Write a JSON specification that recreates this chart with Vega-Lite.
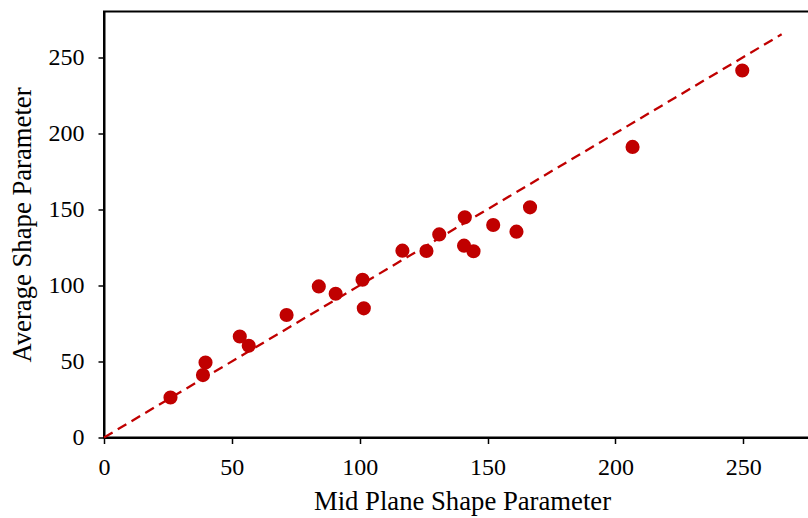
{
  "$schema": "https://vega.github.io/schema/vega-lite/v6.json",
  "autosize": {"type": "none"},
  "padding": {"left": 104, "top": 11.5, "right": -12, "bottom": 80.5},
  "width": 716,
  "height": 426,
  "background": "white",
  "config": {
    "view": {"stroke": "black", "strokeWidth": 2},
    "font": "Liberation Serif",
    "axis": {
      "gridOpacity": 0,
      "domainColor": "black",
      "domainWidth": 2,
      "ticks": true,
      "tickSize": 6,
      "tickColor": "black",
      "tickWidth": 1.5,
      "labelFont": "Liberation Serif",
      "labelFontSize": 24,
      "labelColor": "black",
      "titleFont": "Liberation Serif",
      "titleFontSize": 26.7,
      "titleFontWeight": "normal",
      "titleColor": "black"
    }
  },
  "encoding": {
    "x": {"field": "x", "type": "quantitative", "scale": {"domain": [0, 280], "nice": false},
          "axis": {"tickCount": 6, "labelPadding": 12, "labelFlush": false,
                   "title": "Mid Plane Shape Parameter", "titlePadding": 9}},
    "y": {"field": "y", "type": "quantitative", "scale": {"domain": [0, 280], "nice": false},
          "axis": {"tickCount": 6, "labelPadding": 14,
                   "title": "Average Shape Parameter", "titlePadding": 12}}
  },
  "layer": [
    {
      "data": {"values": [{"x": 0, "y": 0}, {"x": 265, "y": 265}]},
      "mark": {"type": "line", "color": "#C00000", "strokeWidth": 2.3, "strokeDash": [10, 6]}
    },
    {
      "data": {"values": [
        {"x": 26.0, "y": 26.3},
        {"x": 38.7, "y": 41.0},
        {"x": 39.7, "y": 49.3},
        {"x": 53.1, "y": 66.4},
        {"x": 56.6, "y": 60.3},
        {"x": 71.4, "y": 80.5},
        {"x": 84.0, "y": 99.3},
        {"x": 90.6, "y": 94.5},
        {"x": 101.1, "y": 103.7},
        {"x": 101.6, "y": 84.9},
        {"x": 116.7, "y": 122.8},
        {"x": 126.1, "y": 122.6},
        {"x": 131.1, "y": 133.5},
        {"x": 141.1, "y": 144.7},
        {"x": 140.8, "y": 126.1},
        {"x": 144.5, "y": 122.4},
        {"x": 152.2, "y": 139.7},
        {"x": 161.3, "y": 135.3},
        {"x": 166.6, "y": 151.3},
        {"x": 206.7, "y": 191.0},
        {"x": 249.6, "y": 241.2}
      ]},
      "mark": {"type": "point", "filled": true, "shape": "circle", "size": 200, "color": "#C00000", "opacity": 1}
    }
  ]
}
